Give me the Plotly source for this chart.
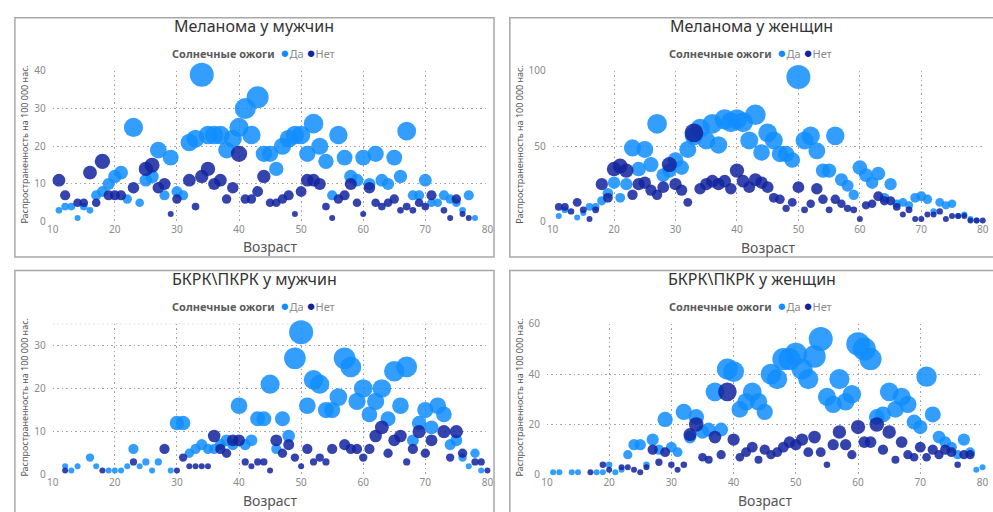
import plotly.graph_objects as go

W, H = 993, 512

# ---- Melanoma, men ----
MEL_M_YES_AGE = [11, 12, 13, 14, 15, 16, 17, 18, 19, 20, 21, 22, 23, 24, 25, 26, 27, 28, 29, 30, 31, 32, 33, 34, 35,
                 36, 37, 38, 39, 40, 41, 42, 43, 44, 45, 46, 47, 48, 49, 50, 51, 52, 53, 54, 55, 56, 57, 58, 59, 60,
                 61, 62, 63, 64, 65, 66, 67, 68, 69, 70, 71, 72, 73, 74, 75, 76, 77, 78]
MEL_M_YES_VAL = [3, 4, 4, 1, 4, 3, 7, 8, 10, 12, 13, 6, 25, 5, 11, 12, 19, 7, 17, 8, 7, 21, 22, 39, 23,
                 23, 23, 19, 22, 25, 30, 23, 33, 18, 18, 14, 20, 22, 23, 23, 18, 26, 20, 16, 7, 23, 17, 12, 11, 17,
                 10, 18, 11, 10, 17, 12, 24, 7, 7, 11, 5, 5, 7, 6, 5, 3, 7, 1]
MEL_M_NO_AGE = [11, 12, 14, 15, 16, 17, 18, 19, 20, 21, 23, 25, 26, 27, 28, 29, 30, 32, 33, 34, 35, 36, 37, 38, 39,
                40, 41, 42, 43, 44, 45, 46, 47, 48, 49, 50, 51, 52, 53, 54, 55, 56, 57, 58, 59, 60, 61, 62, 63, 64,
                65, 66, 67, 68, 69, 70, 71, 73, 74, 75, 76, 77]
MEL_M_NO_VAL = [11, 7, 5, 5, 13, 5, 16, 7, 7, 7, 9, 14, 15, 9, 10, 2, 6, 11, 4, 12, 14, 10, 11, 6, 9,
                18, 6, 6, 8, 12, 5, 5, 6, 7, 2, 8, 11, 11, 10, 4, 1, 6, 7, 10, 5, 2, 9, 5, 4, 5,
                6, 3, 4, 3, 5, 4, 7, 3, 1, 6, 2, 1]

# ---- Melanoma, women ----
MEL_F_YES_AGE = [11, 12, 14, 15, 16, 17, 18, 19, 20, 21, 22, 23, 24, 25, 26, 27, 28, 29, 30, 31, 32, 33, 34, 35,
                 36, 37, 38, 39, 40, 41, 42, 43, 44, 45, 46, 47, 48, 49, 50, 51, 52, 53, 54, 55, 56, 57, 58, 59,
                 60, 61, 62, 63, 64, 65, 66, 67, 68, 69, 70, 71, 72, 73, 74, 75, 76, 77, 78, 79]
MEL_F_YES_VAL = [4, 8, 3, 6, 10, 10, 14, 19, 26, 16, 25, 49, 35, 48, 38, 65, 31, 34, 41, 36, 48, 57, 62, 54,
                 65, 51, 68, 66, 68, 66, 54, 71, 46, 59, 54, 45, 45, 41, 96, 54, 57, 47, 34, 34, 57, 28, 24, 18,
                 36, 31, 26, 32, 16, 25, 12, 13, 11, 16, 17, 15, 7, 13, 11, 12, 4, 5, 2, 1]
MEL_F_NO_AGE = [11, 12, 13, 14, 15, 16, 17, 18, 19, 20, 21, 22, 23, 24, 25, 26, 27, 28, 29, 30, 31, 32, 33, 34, 35,
                36, 37, 38, 39, 40, 41, 42, 43, 44, 45, 46, 47, 48, 49, 50, 51, 52, 53, 54, 55, 56, 57, 58, 59, 60,
                61, 62, 63, 64, 65, 66, 67, 68, 69, 70, 71, 72, 73, 74, 75, 76, 77, 78, 79, 80]
MEL_F_NO_VAL = [10, 10, 7, 13, 8, 2, 8, 25, 16, 35, 37, 34, 18, 25, 26, 21, 18, 23, 38, 25, 21, 13, 59, 22, 25,
                27, 25, 27, 22, 34, 27, 23, 28, 26, 23, 16, 15, 9, 13, 23, 8, 12, 22, 15, 8, 15, 12, 9, 8, 2,
                11, 12, 17, 14, 14, 10, 5, 8, 2, 2, 5, 5, 7, 2, 4, 4, 4, 1, 1, 1]

# ---- BCC/SCC, men ----
BK_M_YES_AGE = [12, 13, 14, 16, 17, 19, 20, 21, 22, 23, 24, 25, 26, 27, 29, 30, 31, 32, 33, 34, 35, 36, 37, 38,
                39, 40, 41, 42, 43, 44, 45, 46, 47, 48, 49, 50, 51, 52, 53, 54, 55, 56, 57, 58, 59, 60, 61, 62,
                63, 64, 65, 66, 67, 68, 69, 70, 71, 72, 73, 74, 75, 76, 77, 78, 79]
BK_M_YES_VAL = [2, 1, 2, 4, 2, 1, 1, 1, 2, 6, 2, 3, 1, 3, 1, 12, 12, 5, 6, 7, 6, 6, 7, 8,
                7, 16, 7, 8, 13, 13, 21, 6, 13, 9, 27, 33, 16, 22, 21, 15, 15, 18, 27, 25, 17, 20, 14, 17,
                20, 13, 24, 16, 25, 8, 12, 15, 11, 16, 14, 7, 8, 4, 2, 5, 1]
BK_M_NO_AGE = [12, 18, 23, 28, 30, 31, 32, 33, 34, 35, 36, 37, 38, 39, 40, 41, 42, 43, 44, 45, 46, 47, 48, 49,
               50, 51, 52, 53, 54, 55, 57, 58, 59, 60, 61, 62, 63, 64, 65, 66, 67, 68, 69, 70, 71, 73, 74, 75,
               76, 78, 79, 80]
BK_M_NO_VAL = [1, 1, 3, 6, 1, 4, 2, 2, 2, 2, 9, 6, 5, 8, 8, 3, 2, 3, 3, 1, 8, 5, 7, 4,
               2, 6, 3, 4, 3, 6, 7, 6, 6, 4, 6, 9, 11, 5, 8, 9, 3, 6, 10, 5, 8, 10, 4, 10,
               5, 3, 3, 1]

# ---- BCC/SCC, women ----
BK_F_YES_AGE = [11, 12, 14, 15, 18, 19, 20, 21, 22, 23, 24, 25, 26, 27, 28, 29, 30, 31, 32, 33, 34, 35, 36, 37,
                38, 39, 40, 41, 42, 43, 44, 45, 46, 47, 48, 49, 50, 51, 52, 53, 54, 55, 56, 57, 58, 59, 60, 61,
                62, 63, 64, 65, 66, 67, 68, 69, 70, 71, 72, 73, 74, 75, 76, 77, 78, 79, 80]
BK_F_YES_VAL = [1, 1, 1, 1, 1, 1, 4, 1, 2, 8, 12, 12, 4, 14, 10, 22, 11, 9, 25, 15, 23, 17, 18, 33,
                18, 42, 41, 26, 29, 33, 29, 25, 40, 38, 46, 46, 48, 42, 38, 47, 54, 31, 28, 38, 29, 32, 52, 50,
                46, 23, 24, 33, 26, 31, 28, 21, 19, 39, 24, 15, 13, 11, 8, 14, 9, 2, 3]
BK_F_NO_AGE = [17, 19, 20, 22, 23, 24, 25, 26, 27, 28, 29, 30, 31, 32, 33, 34, 35, 36, 37, 38, 39, 40, 41, 42,
               43, 44, 45, 46, 47, 48, 49, 50, 51, 52, 53, 54, 55, 56, 57, 58, 59, 60, 61, 62, 63, 64, 65, 66,
               67, 68, 69, 70, 71, 72, 73, 74, 75, 76, 77, 78]
BK_F_NO_VAL = [1, 4, 2, 3, 3, 2, 1, 3, 10, 5, 9, 4, 2, 4, 16, 20, 7, 6, 15, 8, 33, 14, 7, 9,
               11, 6, 10, 8, 9, 11, 13, 12, 14, 9, 15, 9, 4, 12, 17, 12, 8, 19, 13, 13, 20, 10, 17, 6,
               13, 8, 7, 11, 7, 10, 8, 10, 9, 4, 8, 8]

TITLES = ["Меланома у мужчин", "Меланома у женщин", "БКРК\\ПКРК у мужчин", "БКРК\\ПКРК у женщин"]
Y_RANGES = [[0, 40], [0, 100], [0, 35], [0, 60]]
Y_DTICKS = [10, 50, 10, 20]
X_TICKS = [10, 20, 30, 40, 50, 60, 70, 80]

YES_COLOR = "#118DFF"
NO_COLOR = "#12239E"
FONT = "Noto Sans, Open Sans, sans-serif"
GRID = "#a6a6a6"
GRID_DASH = "1.5px,3px"
MAX_D = 24

panels = [
    (MEL_M_YES_AGE, MEL_M_YES_VAL, MEL_M_NO_AGE, MEL_M_NO_VAL),
    (MEL_F_YES_AGE, MEL_F_YES_VAL, MEL_F_NO_AGE, MEL_F_NO_VAL),
    (BK_M_YES_AGE, BK_M_YES_VAL, BK_M_NO_AGE, BK_M_NO_VAL),
    (BK_F_YES_AGE, BK_F_YES_VAL, BK_F_NO_AGE, BK_F_NO_VAL),
]

# plot-area rectangles in pixels: (left, right, top, bottom)
areas = [
    (47.3, 487.3, 65.7, 220.7),
    (553.3, 988.7, 65.7, 221.0),
    (47.3, 487.3, 325.6, 481.0),
    (547.5, 988.5, 325.7, 481.0),
]
# panel frames in pixels: (left, right, top, bottom)
frames = [
    (9, 494, 11, 257),
    (510, 1000, 11, 257),
    (9, 494, 271, 530),
    (510, 1000, 271, 530),
]


def px(x):
    return x / W


def py(y):
    return 1 - y / H


fig = go.Figure()
layout = dict(
    width=W, height=H,
    margin=dict(l=0, r=0, t=0, b=0),
    paper_bgcolor="white", plot_bgcolor="white",
    font=dict(family=FONT, color="#666666"),
    showlegend=False,
    shapes=[], annotations=[],
)

for i, (ya, yv, na, nv) in enumerate(panels):
    k = "" if i == 0 else str(i + 1)
    xa, yaax = "x" + k, "y" + k
    vmax = max(max(yv), max(nv))
    sref = 2.0 * vmax / (MAX_D ** 2)
    for ages, vals, color, name in ((ya, yv, YES_COLOR, "Да"), (na, nv, NO_COLOR, "Нет")):
        fig.add_trace(go.Scatter(
            x=ages, y=vals, mode="markers", name=name, xaxis=xa, yaxis=yaax,
            marker=dict(size=vals, sizemode="area", sizeref=sref, sizemin=3,
                        color=color, opacity=0.85, line=dict(width=0)),
            cliponaxis=False,
            hovertemplate="Возраст: %{x}<br>%{y}<extra>" + name + "</extra>",
        ))

    l, r, t, b = areas[i]
    layout["xaxis" + k] = dict(
        domain=[px(l), px(r)], anchor=yaax, range=[10, 80],
        tickvals=X_TICKS, showgrid=True, gridcolor=GRID, griddash=GRID_DASH, gridwidth=1,
        zeroline=False, showline=False, ticks="",
        tickfont=dict(size=10, color="#8a8a8a"), fixedrange=True,
    )
    layout["yaxis" + k] = dict(
        domain=[py(b), py(t)], anchor=xa, range=Y_RANGES[i], dtick=Y_DTICKS[i], tick0=0,
        showgrid=True, gridcolor=GRID, griddash=GRID_DASH, gridwidth=1,
        zeroline=False, showline=False, ticks="", ticklabelstandoff=6,
        tickfont=dict(size=10, color="#8a8a8a"), fixedrange=True,
    )

    # frame around each visual
    fl, fr, ft, fb = frames[i]
    layout["shapes"].append(dict(
        type="rect", xref="paper", yref="paper",
        x0=px(fl), x1=px(fr), y0=py(fb), y1=py(ft),
        line=dict(color="#a8a8a8", width=1.5), fillcolor="rgba(0,0,0,0)", layer="below",
    ))

    cx = (fl + min(fr, 999.4)) / 2
    # title
    layout["annotations"].append(dict(
        text=TITLES[i], xref="paper", yref="paper", x=px(cx), y=py(ft + 9),
        xanchor="center", yanchor="middle", showarrow=False,
        font=dict(size=16, color="#333333", family=FONT),
    ))
    # legend line
    dot = "<span style='font-size:15px;color:{c}'>●</span>"
    legend_txt = ("<b>Солнечные ожоги</b>  "
                  + dot.format(c=YES_COLOR) + "<span style='color:#8a8a8a'>Да</span> "
                  + dot.format(c=NO_COLOR) + "<span style='color:#8a8a8a'>Нет</span>")
    layout["annotations"].append(dict(
        text=legend_txt, xref="paper", yref="paper", x=px(cx - 1), y=py(ft + 35),
        xanchor="center", yanchor="middle", showarrow=False,
        font=dict(size=11, color="#5a5a5a", family=FONT),
    ))
    # x axis title
    layout["annotations"].append(dict(
        text="Возраст", xref="paper", yref="paper", x=px((l + r) / 2), y=py(b + 26),
        xanchor="center", yanchor="middle", showarrow=False,
        font=dict(size=14, color="#555555", family=FONT),
    ))
    # y axis title
    layout["annotations"].append(dict(
        text="Распространенность на 100 000 нас.", xref="paper", yref="paper",
        x=px(fl + 9.5), y=py((t + b) / 2 - 2), textangle=-90,
        xanchor="center", yanchor="middle", showarrow=False,
        font=dict(size=9, color="#555555", family=FONT),
    ))

# upper edge line of the third plot area (range top is not a tick)
layout["shapes"].append(dict(
    type="line", xref="x3", yref="y3", x0=10, x1=80, y0=35, y1=35,
    line=dict(color=GRID, width=1, dash=GRID_DASH), layer="below",
))

fig.update_layout(**layout)
fig.write_html("out.html")
